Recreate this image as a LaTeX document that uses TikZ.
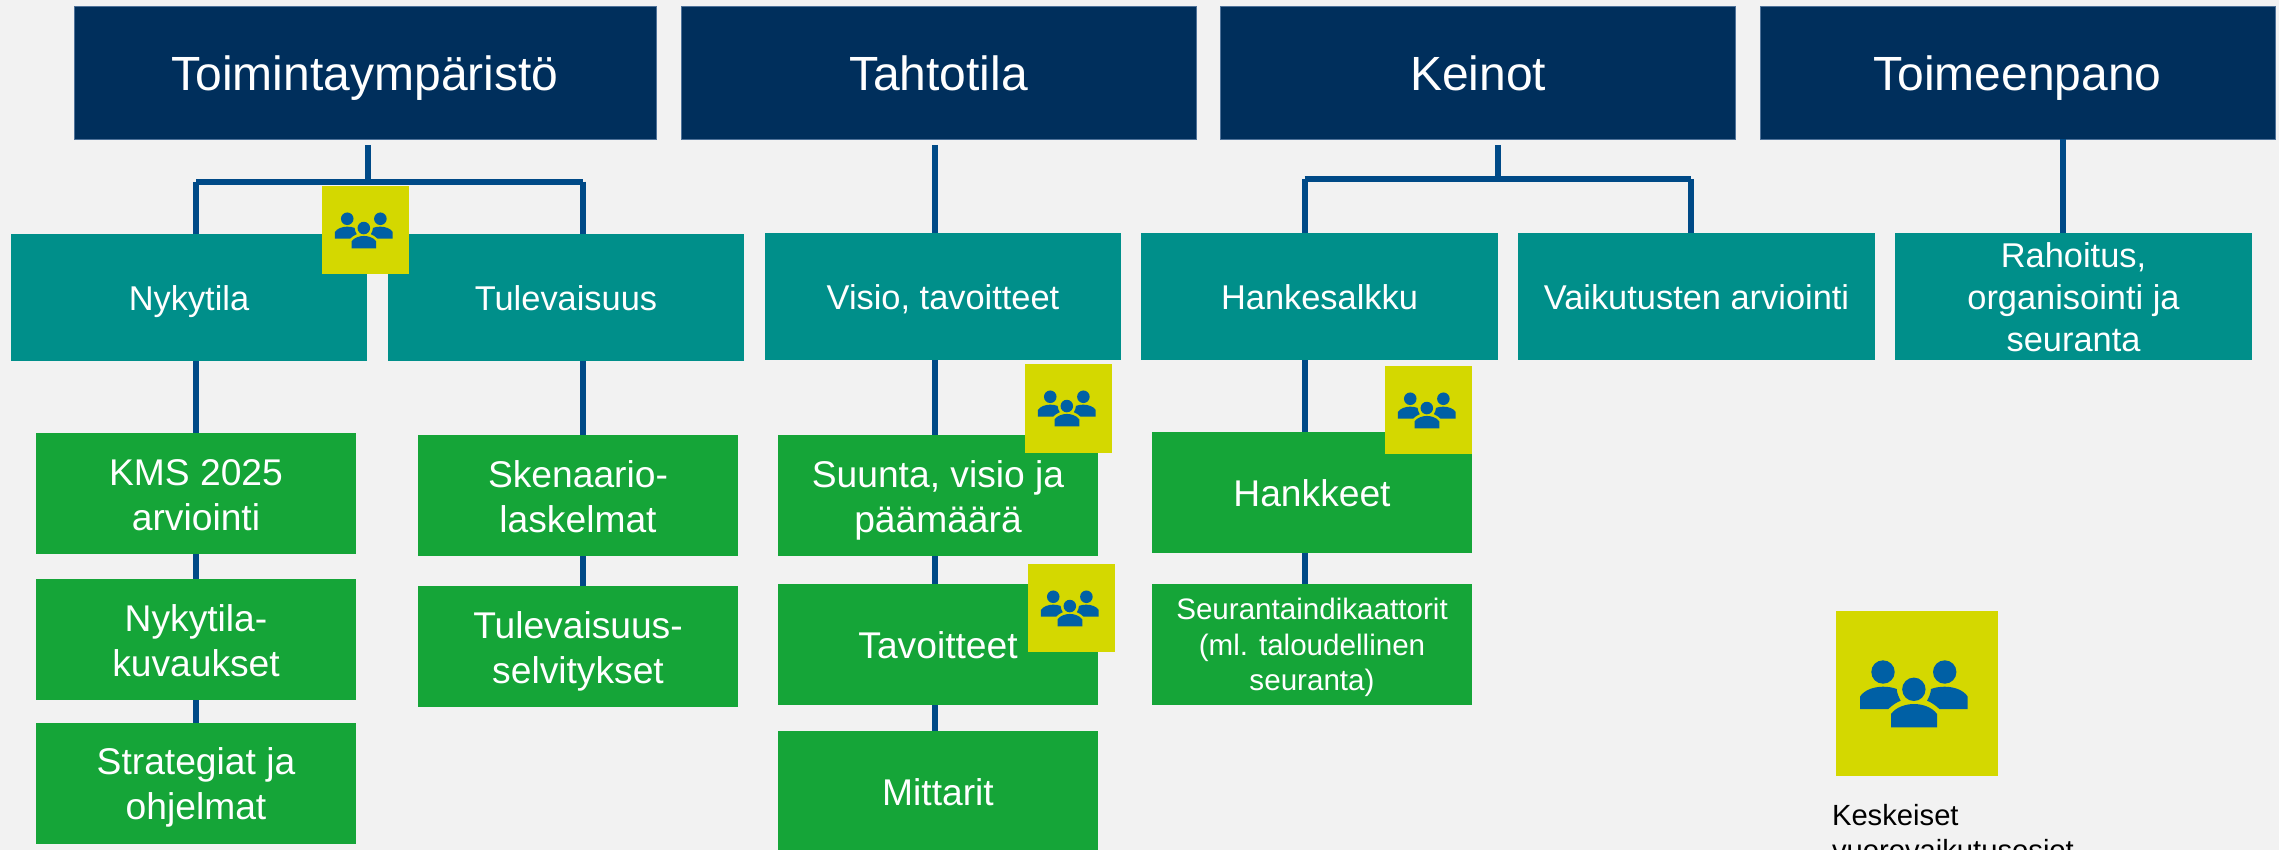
\documentclass[tikz,border=0pt]{standalone}
\usepackage{fontspec}
\setmainfont{Liberation Sans}
\definecolor{bgc}{HTML}{F2F2F2}
\definecolor{navy}{HTML}{002F5C}
\definecolor{navyedge}{HTML}{4F7299}
\definecolor{tealc}{HTML}{008F8A}
\definecolor{greenc}{HTML}{15A538}
\definecolor{yellowc}{HTML}{D4D800}
\definecolor{linec}{HTML}{004A87}
\definecolor{iconc}{HTML}{0060A5}
\def\Zh{0pt}\def\Zd{0pt}
\newcommand{\Zs}{\rule[-\Zd]{0pt}{\dimexpr\Zh+\Zd\relax}}
\tikzset{
  base/.style={inner sep=0pt,outer sep=0pt,text=white,align=center},
  struts/.style 2 args={execute at begin node={\def\Zh{#1}\def\Zd{#2}}},
  head/.style={base,fill=navy,draw=navyedge,line width=0.4pt,font=\fontsize{24}{28}\selectfont,struts={23pt}{5.6pt}},
  subh/.style={base,fill=tealc,font=\fontsize{17.2}{21}\selectfont,struts={17pt}{4pt}},
  leaf/.style={base,fill=greenc,font=\fontsize{18.6}{22.5}\selectfont,struts={18.2pt}{4.2pt}},
  leafs/.style={base,fill=greenc,font=\fontsize{14.8}{17.75}\selectfont,struts={13.8pt}{3.3pt}},
  badge/.style={inner sep=0pt,outer sep=0pt,fill=yellowc},
  conn/.style={draw=linec,line width=3pt,line cap=butt},
  legendtxt/.style={inner sep=0pt,outer sep=0pt,align=left,text=black,font=\fontsize{14.6}{17.7}\selectfont}
}
\newcommand{\bx}[7]{%
  \pgfmathsetmacro\bw{(#5-#3)*0.5}%
  \pgfmathsetmacro\bh{(#6-#4)*0.5}%
  \node[#2,minimum width=\bw pt,minimum height=\bh pt] (#1) at ({(#3+#5)/2},{(#4+#6)/2}) {\Zs#7\Zs};}
\newcommand{\crowd}[2]{%
  \begin{scope}[shift={(#1.north west)},scale=#2]
    \fill[iconc] (47,61) circle[radius=11.7];
    \fill[iconc] (108.7,61) circle[radius=11.7];
    \fill[iconc] (77.85,78.3) circle[radius=11.7];
    \fill[iconc] (55,116.3) -- (55,103) .. controls (60,96) and (70,93) .. (78,93) .. controls (86,93) and (96,96) .. (101,103) -- (101,116.3) -- cycle;
    \fill[iconc] (24,98) -- (24,85.7) .. controls (28,79) and (38,75.7) .. (47,75.7) .. controls (52,75.7) and (57,76.5) .. (60.7,78) .. controls (61,82) and (62.5,86) .. (64.7,89.7) .. controls (60,91.5) and (56,94.5) .. (52.3,98) -- cycle;
    \fill[iconc] (131.7,98) -- (131.7,85.7) .. controls (127.7,79) and (117.7,75.7) .. (108.7,75.7) .. controls (103.7,75.7) and (98.7,76.5) .. (95,78) .. controls (94.7,82) and (93.2,86) .. (91,89.7) .. controls (95.7,91.5) and (99.7,94.5) .. (103.4,98) -- cycle;
  \end{scope}}
\begin{document}
\begin{tikzpicture}[x=0.5pt,y=-0.5pt]
\fill[bgc] (0,0) rectangle (2279,850);
\clip (0,0) rectangle (2279,850);
\useasboundingbox (0,0) rectangle (2279,850);
% headers
\bx{h1}{head}{74}{6}{656}{139.3}{Toimintaympäristö}
\bx{h2}{head}{681}{6}{1196}{139.3}{Tahtotila}
\bx{h3}{head}{1220.7}{6}{1735.7}{139.3}{Keinot}
\bx{h4}{head}{1760}{6}{2275}{139.3}{Toimeenpano}
% second row
\bx{nyk}{subh}{11}{234}{367}{361}{Nykytila}
\bx{tul}{subh}{388}{234}{744}{361}{Tulevaisuus}
\bx{vis}{subh}{765}{233}{1121}{360}{Visio, tavoitteet}
\bx{han}{subh}{1141}{233}{1498}{360}{Hankesalkku}
\bx{vai}{subh}{1518}{233}{1875}{360}{Vaikutusten arviointi}
\bx{rah}{subh}{1895}{233}{2252}{360}{Rahoitus,\\organisointi ja\\seuranta}
% leaves
\bx{kms}{leaf}{36}{433}{356}{554}{KMS 2025\\arviointi}
\bx{nku}{leaf}{36}{579}{356}{700}{Nykytila-\\kuvaukset}
\bx{str}{leaf}{36}{723}{356}{843.7}{Strategiat ja\\ohjelmat}
\bx{ske}{leaf}{418}{435}{738}{556}{Skenaario-\\laskelmat}
\bx{tse}{leaf}{418}{586}{738}{707}{Tulevaisuus-\\selvitykset}
\bx{suu}{leaf}{778}{435}{1098}{556}{Suunta, visio ja\\päämäärä}
\bx{tav}{leaf}{778}{584}{1098}{705}{Tavoitteet}
\bx{mit}{leaf}{778}{731}{1098}{852}{Mittarit}
\bx{hkk}{leaf}{1152}{432}{1472}{553}{Hankkeet}
\bx{sei}{leafs}{1152}{584}{1472}{705}{Seurantaindikaattorit\\(ml. taloudellinen\\seuranta)}
% connectors
\coordinate (t1) at (368,145);
\coordinate (b1) at (368,181.7);
\coordinate (b1l) at (196.3,181.7);
\coordinate (b1r) at (583,181.7);
\coordinate (t2) at (935,145);
\coordinate (t3) at (1497.7,145);
\coordinate (b3) at (1497.7,179);
\coordinate (b3l) at (1304.7,179);
\coordinate (b3r) at (1691,179);
\draw[conn] (t1) -- (b1);
\draw[conn] (b1l) -- (b1r);
\draw[conn] (b1l) -- (b1l |- nyk.north);
\draw[conn] (b1r) -- (b1r |- tul.north);
\draw[conn] (b1l |- nyk.south) -- (b1l |- kms.north);
\draw[conn] (b1l |- kms.south) -- (b1l |- nku.north);
\draw[conn] (b1l |- nku.south) -- (b1l |- str.north);
\draw[conn] (b1r |- tul.south) -- (b1r |- ske.north);
\draw[conn] (b1r |- ske.south) -- (b1r |- tse.north);
\draw[conn] (t2) -- (t2 |- vis.north);
\draw[conn] (t2 |- vis.south) -- (t2 |- suu.north);
\draw[conn] (t2 |- suu.south) -- (t2 |- tav.north);
\draw[conn] (t2 |- tav.south) -- (t2 |- mit.north);
\draw[conn] (t3) -- (b3);
\draw[conn] (b3l) -- (b3r);
\draw[conn] (b3l) -- (b3l |- han.north);
\draw[conn] (b3r) -- (b3r |- vai.north);
\draw[conn] (b3l |- han.south) -- (b3l |- hkk.north);
\draw[conn] (b3l |- hkk.south) -- (b3l |- sei.north);
\coordinate (t4) at (2063.3,139.3);
\draw[conn] (t4) -- (t4 |- rah.north);
% badges
\bx{s1}{badge}{322}{186}{409}{274}{}
\bx{s2}{badge}{1025}{364}{1112}{453}{}
\bx{s3}{badge}{1028}{564}{1115}{652}{}
\bx{s4}{badge}{1385}{366}{1472}{454}{}
\bx{s5}{badge}{1836}{611}{1998}{776}{}
\crowd{s1}{0.537}
\crowd{s2}{0.537}
\crowd{s3}{0.537}
\crowd{s4}{0.537}
\crowd{s5}{1}
\node[legendtxt,anchor=north west] (leg) at (1832,804) {Keskeiset\\vuorovaikutusosiot};
\end{tikzpicture}
\end{document}
